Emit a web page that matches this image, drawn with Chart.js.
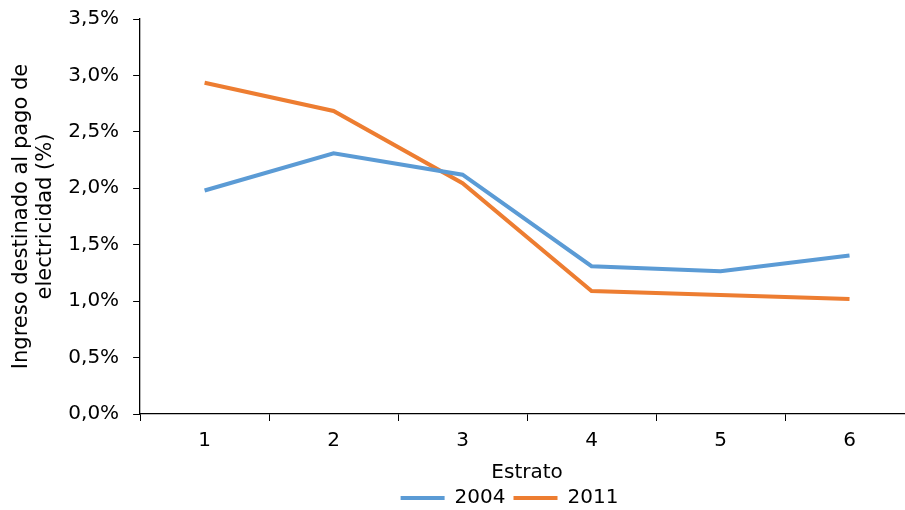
<!DOCTYPE html>
<html>
<head>
<meta charset="utf-8">
<script src="https://cdn.jsdelivr.net/npm/chart.js@4.4.1/dist/chart.umd.min.js"></script>
<style>
    html, body { margin: 0; padding: 0; background: #fff; overflow: hidden; }
    #wrap { width: 905px; height: 510px; overflow: hidden; position: relative; }
    #grafico { position: absolute; left: 0; top: -7px; }
</style>
</head>
<body>
<div id="wrap"><canvas id="grafico" width="914" height="525"></canvas></div>
<script>
// ================= DATA =================
const estratos = ["1", "2", "3", "4", "5", "6"];
const serie2004 = [1.98, 2.31, 2.12, 1.31, 1.265, 1.405];
const serie2011 = [2.935, 2.685, 2.045, 1.09, 1.055, 1.02];
const etiquetasSeries = ["2004", "2011"];
const coloresSeries = ["#5B9BD5", "#ED7D31"];

const FUENTE = "'DejaVu Sans', sans-serif";
const TEXTO = "#000000";

// la leyenda del original no esta centrada en el lienzo
const moverLeyenda = {
    id: "moverLeyenda",
    afterLayout(chart) {
        const lg = chart.legend;
        if (!lg) return;
        lg.left += 48;
        lg.right += 48;
    }
};

// ================= CHART =================
function cargarGrafico() {
    const ctx = document.getElementById("grafico");

    new Chart(ctx, {
        type: "line",
        data: {
            labels: estratos,
            datasets: [serie2004, serie2011].map((vals, i) => ({
                label: etiquetasSeries[i],
                data: vals,
                borderColor: coloresSeries[i],
                backgroundColor: coloresSeries[i],
                borderWidth: 4,
                pointRadius: 0,
                tension: 0,
                fill: false
            }))
        },
        options: {
            responsive: false,
            animation: false,
            layout: { padding: { left: 9, top: 0, right: 0, bottom: 0 } },
            plugins: {
                tooltip: { enabled: false },
                legend: {
                    position: "bottom",
                    labels: {
                        font: { family: FUENTE, size: 20 },
                        color: TEXTO,
                        boxWidth: 44,
                        boxHeight: 4,
                        padding: 8,
                        generateLabels(chart) {
                            return Chart.defaults.plugins.legend.labels.generateLabels(chart)
                                .map(l => ({ ...l, lineWidth: 0 }));
                        }
                    }
                }
            },
            scales: {
                x: {
                    offset: true,
                    border: { color: "#000", width: 1.3 },
                    grid: {
                        offset: true,
                        drawOnChartArea: false,
                        tickLength: 7,
                        color: "#000",
                        lineWidth: 1
                    },
                    ticks: {
                        font: { family: FUENTE, size: 20 },
                        color: TEXTO,
                        padding: 8
                    },
                    title: {
                        display: true,
                        text: "Estrato",
                        font: { family: FUENTE, size: 20 },
                        color: TEXTO,
                        padding: { top: 0, bottom: -5 }
                    }
                },
                y: {
                    min: 0,
                    max: 3.5,
                    border: { color: "#000", width: 1.3 },
                    grid: {
                        drawOnChartArea: false,
                        tickLength: 7,
                        color: "#000"
                    },
                    ticks: {
                        stepSize: 0.5,
                        font: { family: FUENTE, size: 20 },
                        color: TEXTO,
                        padding: 14,
                        callback: v => v.toFixed(1).replace(".", ",") + "%"
                    },
                    title: {
                        display: true,
                        text: ["Ingreso destinado al pago de", "electricidad (%)"],
                        font: { family: FUENTE, size: 21, lineHeight: 1.15 },
                        color: TEXTO,
                        padding: { top: 0, bottom: -3 }
                    }
                }
            }
        },
        plugins: [moverLeyenda]
    });
}

// ================= START =================
window.addEventListener("DOMContentLoaded", cargarGrafico);
</script>
</body>
</html>
